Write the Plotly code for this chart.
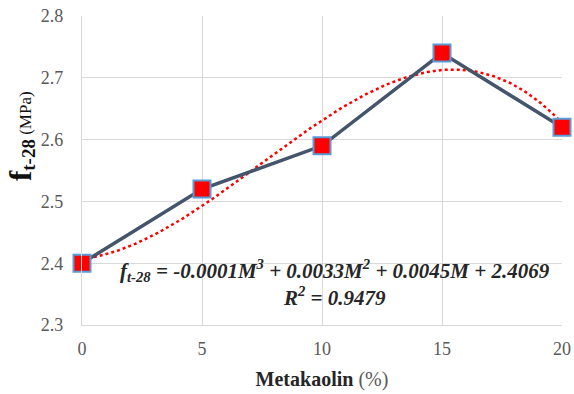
import numpy as np
import plotly.graph_objects as go

metakaolin = [0, 5, 10, 15, 20]
strength = [2.40, 2.52, 2.59, 2.74, 2.62]
x_ticks = [0, 5, 10, 15, 20]
y_ticks = [2.3, 2.4, 2.5, 2.6, 2.7, 2.8]

coef = np.polyfit(metakaolin, strength, 3)
xs = np.linspace(0, 20, 200)
ys = np.polyval(coef, xs)

font = "Liberation Serif, Times New Roman, serif"

fig = go.Figure()
fig.add_trace(go.Scatter(x=xs, y=ys, mode="lines",
                         line=dict(color="#ff0000", width=2.5, dash="dot"),
                         hoverinfo="skip", showlegend=False))
fig.add_trace(go.Scatter(x=metakaolin, y=strength, mode="lines+markers",
                         line=dict(color="#44546a", width=3.5),
                         marker=dict(symbol="square", size=17, color="#ff0000",
                                     line=dict(color="#5b9bd5", width=2)),
                         cliponaxis=False, showlegend=False))

fig.update_layout(
    width=574, height=394,
    margin=dict(l=82, r=12, t=16, b=69),
    paper_bgcolor="white", plot_bgcolor="white",
    font=dict(family=font),
    xaxis=dict(range=[0, 20], tickvals=x_ticks, showgrid=True, gridcolor="#d9d9d9",
               gridwidth=1.3, showline=True, linecolor="#d9d9d9", linewidth=1.3,
               zeroline=False, ticks="outside", ticklen=7, tickcolor="rgba(0,0,0,0)",
               automargin=False,
               tickfont=dict(size=18, color="#595959", family=font),
               title=dict(text="<b>Metakaolin</b> <span style='color:#595959'>(%)</span>",
                          font=dict(size=20, color="#262626", family=font), standoff=14)),
    yaxis=dict(range=[2.3, 2.8], tickvals=y_ticks, tickformat=".1f", showgrid=True,
               gridcolor="#d9d9d9", gridwidth=1.3, showline=True, linecolor="#d9d9d9",
               linewidth=1.3, zeroline=False, ticks="outside", ticklen=14,
               tickcolor="rgba(0,0,0,0)", automargin=False,
               tickfont=dict(size=18, color="#595959", family=font)),
)
fig.add_annotation(x=-0.128, y=0.61, xref="paper", yref="paper", showarrow=False,
                   textangle=-90, xanchor="center", yanchor="middle",
                   text="<b><span style='font-size:31px'>f</span><sub><span style='font-size:19px'>t-28</span></sub></b><span style='font-size:17px'> (MPa)</span>",
                   font=dict(size=20, color="#111111", family=font))
fig.add_annotation(x=0.527, y=0.124, xref="paper", yref="paper", showarrow=False,
                   text="<b><i>f<sub>t-28</sub> = -0.0001M<sup>3</sup> + 0.0033M<sup>2</sup> + 0.0045M + 2.4069</i></b>",
                   font=dict(size=21, color="#262626", family=font))
fig.add_annotation(x=0.527, y=0.042, xref="paper", yref="paper", showarrow=False,
                   text="<b><i>R<sup>2</sup> = 0.9479</i></b>",
                   font=dict(size=21, color="#262626", family=font))
fig.write_html("out.html")
